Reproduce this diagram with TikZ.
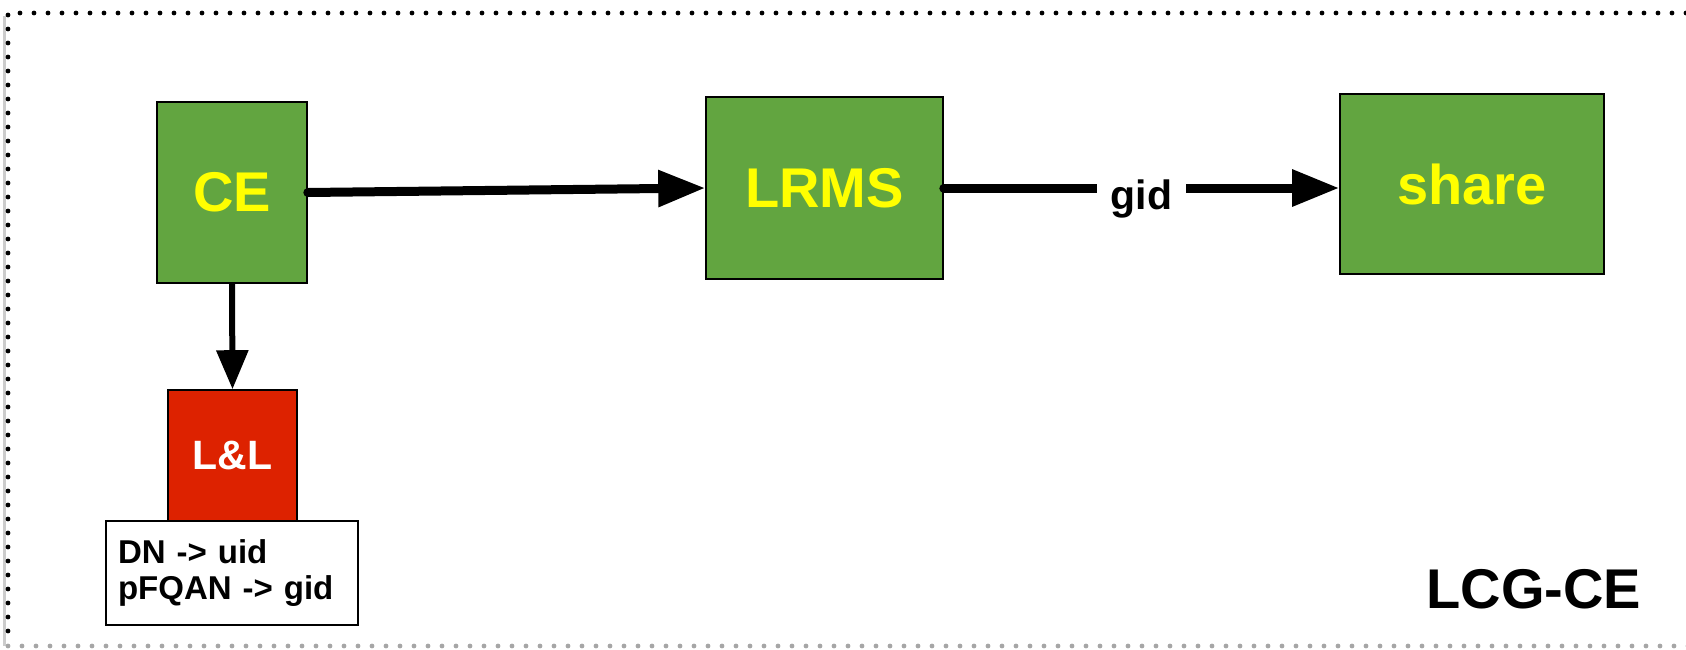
\documentclass[tikz,border=0pt]{standalone}
\usepackage{fontspec}
\setmainfont{Liberation Sans}
\usetikzlibrary{arrows.meta}
\definecolor{boxgreen}{RGB}{98,165,64}
\definecolor{boxred}{RGB}{221,34,0}
\definecolor{labelyellow}{RGB}{255,255,0}
\tikzset{
  greenbox/.style={draw=black, line width=0.8pt, fill=boxgreen, text=labelyellow,
    font=\fontsize{28}{34}\selectfont\bfseries, inner sep=0pt},
  redbox/.style={draw=black, line width=0.8pt, fill=boxred, text=white,
    font=\fontsize{20.5}{24}\selectfont\bfseries, inner sep=0pt},
  mapbox/.style={draw=black, line width=0.8pt, fill=white, align=left,
    font=\fontsize{16.5}{18}\selectfont\bfseries, inner xsep=6pt, inner ysep=0pt},
  bigarrow/.style={line width=4.5pt, line cap=round,
    -{Triangle[length=23.5pt,width=17.5pt]}},
  downarrow/.style={line width=3pt, -{Triangle[length=19.5pt,width=15.5pt]}},
  frameline/.style={line width=2.4pt, line cap=round, dash pattern=on 0pt off 7pt}
}
\begin{document}
\begin{tikzpicture}[x=0.5pt, y=-0.5pt]
  \useasboundingbox (0,0) rectangle (1686,649);

  % dotted frame round the whole group
  \draw[gray!40, line width=1.5pt] (4,16) -- (4,646);
  \draw[frameline] (1700,13) -- (8,13) -- (8,640);
  \draw[frameline, gray!70] (8,646) -- (1700,646);

  % components
  \node[greenbox, minimum width=75pt, minimum height=90.5pt] (ce) at (232,192.5) {CE};
  \node[greenbox, minimum width=118.5pt, minimum height=91pt] (lrms) at (824.5,188) {LRMS};
  \node[greenbox, minimum width=132pt, minimum height=90pt] (share) at (1472,184) {share};
  \node[redbox, minimum width=64.5pt, minimum height=65.5pt] (ll) at (232.5,455.5) {L\&L};
  \node[mapbox, text width=114pt, minimum height=52pt] (map) at (232,573)
    {DN -> uid\\pFQAN -> gid};

  \node[font=\fontsize{28}{34}\selectfont\bfseries, anchor=base] (title) at (1534,608) {LCG-CE};

  % connectors
  \draw[bigarrow] (ce.east) -- (lrms.west);
  \draw[bigarrow] (lrms.east) -- (lrms.east -| share.west)
    node[midway, fill=white, inner xsep=7pt, inner ysep=1pt, yshift=-5.5pt,
         font=\fontsize{20.5}{24}\selectfont\bfseries] (gidlabel) {gid};
  \draw[downarrow] (ce.south) -- (ll.north);
\end{tikzpicture}
\end{document}
